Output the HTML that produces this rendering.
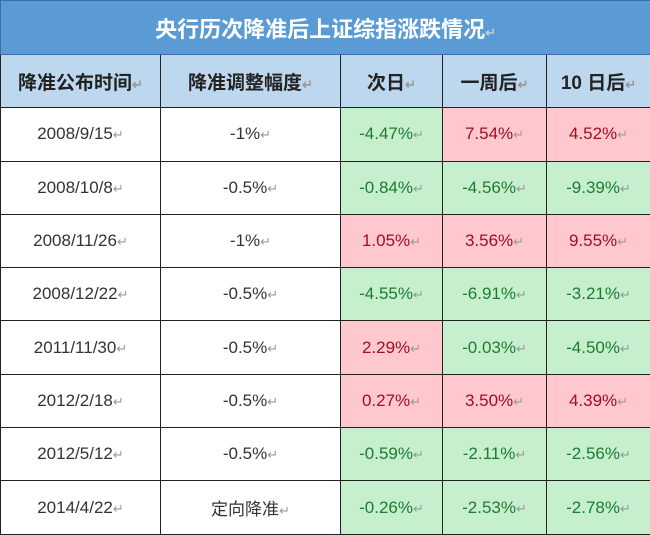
<!DOCTYPE html>
<html><head><meta charset="utf-8"><style>
body{margin:0;width:650px;height:533px;overflow:hidden;background:#fff;font-family:"Liberation Sans","Noto Sans CJK SC",sans-serif}
table{border-collapse:collapse;position:absolute;left:0;top:0;width:650px;table-layout:fixed}
td{border:1.5px solid #222;text-align:center;font-size:17px;color:#333;padding:0;height:52.3px}
.t{background:#5b9bd5;color:#fff;font-size:22px;font-weight:bold;height:53px;border-color:#3a6ea5}
.h td{background:#bdd7ee;font-weight:bold;font-size:19px;color:#222}
.g{background:#c6efce;color:#1e7b32}
.r{background:#ffc7ce;color:#9c1020}
i{font-style:normal;color:#999;font-size:13px}
</style></head><body>
<table>
<colgroup><col style="width:160px"><col style="width:180px"><col style="width:102px"><col style="width:104px"><col style="width:104px"></colgroup>
<tr><td class="t" colspan="5">央行历次降准后上证综指涨跌情况<i style="color:#bcd">↵</i></td></tr>
<tr class="h"><td>降准公布时间<i>↵</i></td><td>降准调整幅度<i>↵</i></td><td>次日<i>↵</i></td><td>一周后<i>↵</i></td><td>10 日后<i>↵</i></td></tr>
<tr><td>2008/9/15<i>↵</i></td><td>-1%<i>↵</i></td><td class="g">-4.47%<i>↵</i></td><td class="r">7.54%<i>↵</i></td><td class="r">4.52%<i>↵</i></td></tr>
<tr><td>2008/10/8<i>↵</i></td><td>-0.5%<i>↵</i></td><td class="g">-0.84%<i>↵</i></td><td class="g">-4.56%<i>↵</i></td><td class="g">-9.39%<i>↵</i></td></tr>
<tr><td>2008/11/26<i>↵</i></td><td>-1%<i>↵</i></td><td class="r">1.05%<i>↵</i></td><td class="r">3.56%<i>↵</i></td><td class="r">9.55%<i>↵</i></td></tr>
<tr><td>2008/12/22<i>↵</i></td><td>-0.5%<i>↵</i></td><td class="g">-4.55%<i>↵</i></td><td class="g">-6.91%<i>↵</i></td><td class="g">-3.21%<i>↵</i></td></tr>
<tr><td>2011/11/30<i>↵</i></td><td>-0.5%<i>↵</i></td><td class="r">2.29%<i>↵</i></td><td class="g">-0.03%<i>↵</i></td><td class="g">-4.50%<i>↵</i></td></tr>
<tr><td>2012/2/18<i>↵</i></td><td>-0.5%<i>↵</i></td><td class="r">0.27%<i>↵</i></td><td class="r">3.50%<i>↵</i></td><td class="r">4.39%<i>↵</i></td></tr>
<tr><td>2012/5/12<i>↵</i></td><td>-0.5%<i>↵</i></td><td class="g">-0.59%<i>↵</i></td><td class="g">-2.11%<i>↵</i></td><td class="g">-2.56%<i>↵</i></td></tr>
<tr><td>2014/4/22<i>↵</i></td><td>定向降准<i>↵</i></td><td class="g">-0.26%<i>↵</i></td><td class="g">-2.53%<i>↵</i></td><td class="g">-2.78%<i>↵</i></td></tr>
</table>
</body></html>
